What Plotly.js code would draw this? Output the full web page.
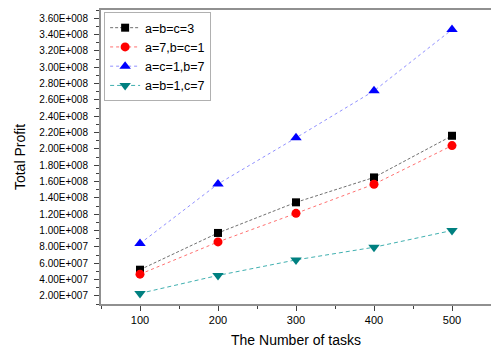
<!DOCTYPE html>
<html>
<head>
<meta charset="utf-8">
<script src="https://cdn.plot.ly/plotly-3.0.1.min.js"></script>
<style>html,body{margin:0;padding:0;background:#fff;}#chart{width:491px;height:352px;}</style>
</head>
<body>
<div id="chart"></div>
<script>
const tasks = [100, 200, 300, 400, 500];
const seriesNames = ["a=b=c=3", "a=7,b=c=1", "a=c=1,b=7", "a=b=1,c=7"];
const profitABC3 = [5.2e7, 9.7e7, 1.345e8, 1.65e8, 2.16e8];
const profitA7 = [4.65e7, 8.6e7, 1.21e8, 1.567e8, 2.04e8];
const profitB7 = [8.4e7, 1.57e8, 2.135e8, 2.71e8, 3.46e8];
const profitC7 = [2.3e7, 4.5e7, 6.4e7, 7.95e7, 1.0e8];
const xTickVals = [100, 200, 300, 400, 500];
const yTickVals = [2e7, 4e7, 6e7, 8e7, 1e8, 1.2e8, 1.4e8, 1.6e8, 1.8e8, 2e8, 2.2e8, 2.4e8, 2.6e8, 2.8e8, 3e8, 3.2e8, 3.4e8, 3.6e8];
const yTickText = ["2.00E+007","4.00E+007","6.00E+007","8.00E+007","1.00E+008","1.20E+008","1.40E+008","1.60E+008","1.80E+008","2.00E+008","2.20E+008","2.40E+008","2.60E+008","2.80E+008","3.00E+008","3.20E+008","3.40E+008","3.60E+008"];

const font = "Arial, 'Liberation Sans', sans-serif";
const traces = [
  {x: tasks, y: profitABC3, name: seriesNames[0], mode: "lines+markers",
   line: {color: "#707070", width: 1, dash: "3px,2px"},
   marker: {symbol: "square", size: 8, color: "#000000"}},
  {x: tasks, y: profitA7, name: seriesNames[1], mode: "lines+markers",
   line: {color: "#ff7070", width: 1, dash: "dot"},
   marker: {symbol: "circle", size: 9, color: "#ff0000"}},
  {x: tasks, y: profitB7, name: seriesNames[2], mode: "lines+markers",
   line: {color: "#9090ff", width: 1, dash: "dot"},
   marker: {symbol: "triangle-up", size: 10, color: "#0000ff"}},
  {x: tasks, y: profitC7, name: seriesNames[3], mode: "lines+markers",
   line: {color: "#40b0b0", width: 1, dash: "4px,3px"},
   marker: {symbol: "triangle-down", size: 10, color: "#008080"}}
];

const layout = {
  width: 491, height: 352,
  margin: {l: 101, r: 0, t: 10, b: 48},
  paper_bgcolor: "#fff", plot_bgcolor: "#fff",
  font: {family: font, color: "#000", size: 11},
  showlegend: true,
  legend: {x: 0.008, y: 0.993, xanchor: "left", yanchor: "top",
    bgcolor: "#fff", bordercolor: "#b0b0b0", borderwidth: 1,
    font: {family: font, size: 12.5, color: "#000"}, tracegroupgap: 0},
  xaxis: {
    range: [50, 550], tickmode: "array", tickvals: xTickVals,
    ticks: "outside", ticklen: 5, tickwidth: 1, tickcolor: "#404040",
    showline: true, linecolor: "#909090", linewidth: 2, mirror: true,
    showgrid: false, zeroline: false,
    tickfont: {family: font, size: 11},
    minor: {tickmode: "linear", tick0: 50, dtick: 50, ticks: "outside", ticklen: 3, tickcolor: "#404040", showgrid: false},
    title: {text: "The Number of tasks", font: {family: font, size: 14}, standoff: 10}
  },
  yaxis: {
    range: [1e7, 3.7e8], tickmode: "array", tickvals: yTickVals, ticktext: yTickText,
    ticks: "outside", ticklen: 5, tickwidth: 1, tickcolor: "#404040",
    showline: true, linecolor: "#909090", linewidth: 2, mirror: false,
    showgrid: false, zeroline: false, ticklabelstandoff: 4,
    tickfont: {family: font, size: 10},
    minor: {tickmode: "linear", tick0: 1e7, dtick: 1e7, ticks: "outside", ticklen: 3, tickcolor: "#404040", showgrid: false},
    title: {text: "Total Profit", font: {family: font, size: 14}, standoff: 10}
  }
};
Plotly.newPlot("chart", traces, layout, {staticPlot: true, displayModeBar: false});
</script>
</body>
</html>
